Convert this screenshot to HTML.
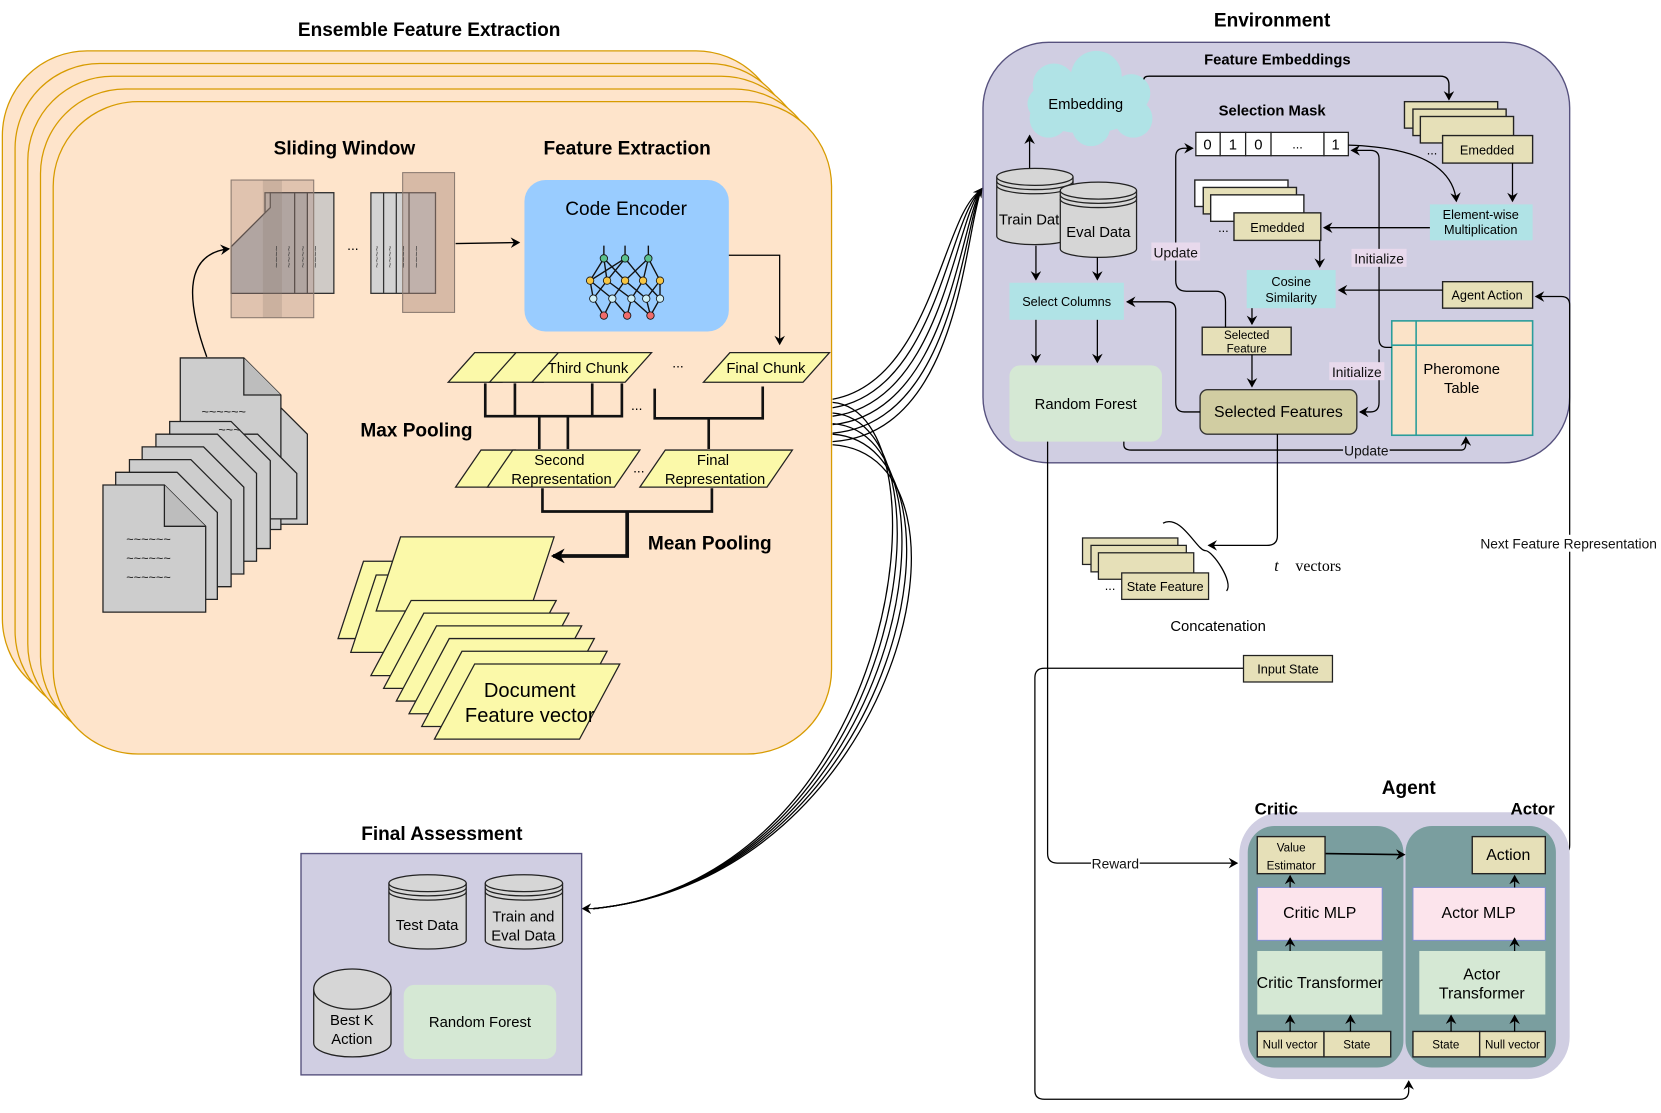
<!DOCTYPE html>
<html><head><meta charset="utf-8"><style>
html,body{margin:0;padding:0;background:#fff;}
svg{display:block;font-family:"Liberation Sans",Arial,sans-serif;}
.b{font-weight:bold;}
</style></head><body>
<svg width="1661" height="1113" viewBox="0 0 1568 1051" xmlns="http://www.w3.org/2000/svg">
<defs>
<marker id="ar" markerWidth="10" markerHeight="10" refX="8" refY="5" orient="auto" markerUnits="userSpaceOnUse"><path d="M0,0 L9,5 L0,10 L3,5 Z" fill="#000"/></marker>
<marker id="ar2" markerWidth="14" markerHeight="14" refX="11" refY="7" orient="auto" markerUnits="userSpaceOnUse"><path d="M0,0 L13,7 L0,14 L4,7 Z" fill="#000"/></marker>
</defs>
<rect width="1568" height="1051" fill="#fff"/>

<!-- Ensemble -->
<text x="405" y="34" text-anchor="middle" font-size="18" class="b">Ensemble Feature Extraction</text>
<g fill="#fee4cb" stroke="#d79b00" stroke-width="1.2">
<rect x="2" y="48" width="735" height="616" rx="80"/>
<rect x="14" y="60" width="735" height="616" rx="80"/>
<rect x="26" y="72" width="735" height="616" rx="80"/>
<rect x="38" y="84" width="735" height="616" rx="80"/>
<rect x="50" y="96" width="735" height="616" rx="80"/>
</g>
<text x="325" y="146" text-anchor="middle" font-size="18" class="b">Sliding Window</text>
<text x="592" y="146" text-anchor="middle" font-size="18" class="b">Feature Extraction</text>

<!-- sliding window -->
<g stroke="#333" stroke-width="1.2">
<rect x="250" y="182" width="65" height="95" fill="#ddd6d0"/>
<rect x="268" y="182" width="47" height="95" fill="#cfcac6"/>
<path d="M218,233 L255,196 L255,182 L290,182 L290,277 L218,277 Z" fill="#b5b5b5"/>
<line x1="278" y1="182" x2="278" y2="277"/>
<rect x="350" y="182" width="61" height="95" fill="#d3d3d3"/>
<line x1="362" y1="182" x2="362" y2="277"/><line x1="374" y1="182" x2="374" y2="277"/><line x1="386" y1="182" x2="386" y2="277"/>
</g>
<rect x="218" y="170" width="78" height="130" fill="#a8887a" fill-opacity="0.35" stroke="#8a7a70"/>
<rect x="248" y="170" width="18" height="130" fill="#8a7a70" fill-opacity="0.25"/>
<rect x="380" y="163" width="49" height="132" fill="#a8887a" fill-opacity="0.45" stroke="#8a7a70"/>
<g font-size="9" fill="#333">
<text x="258" y="232" transform="rotate(90 258 232)">~~~~</text>
<text x="270" y="232" transform="rotate(90 270 232)">~~~~</text>
<text x="283" y="232" transform="rotate(90 283 232)">~~~~</text>
<text x="295" y="232" transform="rotate(90 295 232)">~~~~</text>
<text x="353" y="232" transform="rotate(90 353 232)">~~~~</text>
<text x="365" y="232" transform="rotate(90 365 232)">~~~~</text>
<text x="378" y="232" transform="rotate(90 378 232)">~~~~</text>
<text x="390" y="232" transform="rotate(90 390 232)">~~~~</text>
</g>
<text x="333" y="236" font-size="13" text-anchor="middle">...</text>
<path d="M430,230 L490,229" stroke="#000" stroke-width="1.2" fill="none" marker-end="url(#ar)"/>

<!-- code encoder -->
<rect x="495" y="170" width="193" height="143" rx="20" fill="#99ccff"/>
<text x="591" y="203" text-anchor="middle" font-size="18">Code Encoder</text>
<g stroke="#111" stroke-width="1.3">
<path d="M570,244 L557,265 M570,244 L573,265 M570,244 L590,265 M590,244 L573,265 M590,244 L607,265 M590,244 L557,265 M612,244 L607,265 M612,244 L623,265 M612,244 L590,265 M557,265 L560,282 M557,265 L578,282 M573,265 L560,282 M573,265 L596,282 M590,265 L578,282 M590,265 L610,282 M607,265 L596,282 M607,265 L623,282 M623,265 L610,282 M623,265 L623,282 M560,282 L570,298 M578,282 L570,298 M578,282 L592,298 M596,282 L592,298 M596,282 L614,298 M610,282 L614,298 M623,282 L614,298 M560,282 L557,265 M570,244 L570,232 M590,244 L590,232 M612,244 L612,232"/>
</g>
<g stroke="#111" stroke-width="0.8">
<circle cx="570" cy="244" r="3.5" fill="#5ac18e"/><circle cx="590" cy="244" r="3.5" fill="#5ac18e"/><circle cx="612" cy="244" r="3.5" fill="#5ac18e"/>
<circle cx="557" cy="265" r="3.5" fill="#f6c543"/><circle cx="573" cy="265" r="3.5" fill="#f6c543"/><circle cx="590" cy="265" r="3.5" fill="#f6c543"/><circle cx="607" cy="265" r="3.5" fill="#f6c543"/><circle cx="623" cy="265" r="3.5" fill="#f6c543"/>
<circle cx="560" cy="282" r="3.5" fill="#cdeef6"/><circle cx="578" cy="282" r="3.5" fill="#cdeef6"/><circle cx="596" cy="282" r="3.5" fill="#cdeef6"/><circle cx="610" cy="282" r="3.5" fill="#cdeef6"/><circle cx="623" cy="282" r="3.5" fill="#cdeef6"/>
<circle cx="570" cy="298" r="3.5" fill="#ef6b6b"/><circle cx="592" cy="298" r="3.5" fill="#ef6b6b"/><circle cx="614" cy="298" r="3.5" fill="#ef6b6b"/>
</g>
<path d="M688,241 L736,241 L736,325" stroke="#000" stroke-width="1.2" fill="none" marker-end="url(#ar)"/>

<!-- chunks -->
<g fill="#fbf9a9" stroke="#222" stroke-width="1.2">
<path d="M423,361 L448,333 L499,333 L474,361 Z"/>
<path d="M462,361 L487,333 L538,333 L513,361 Z"/>
<path d="M502,361 L527,333 L615,333 L590,361 Z"/>
<path d="M664,361 L689,333 L783,333 L758,361 Z"/>
<path d="M430,460 L454,425 L486,425 L462,460 Z"/>
<path d="M460,460 L484,425 L604,425 L580,460 Z"/>
<path d="M604,460 L628,425 L748,425 L724,460 Z"/>
</g>
<text x="555" y="352" text-anchor="middle" font-size="14">Third Chunk</text>
<text x="723" y="352" text-anchor="middle" font-size="14">Final Chunk</text>
<text x="640" y="347" text-anchor="middle" font-size="13">...</text>
<text x="528" y="439" text-anchor="middle" font-size="14">Second</text>
<text x="530" y="457" text-anchor="middle" font-size="14">Representation</text>
<text x="673" y="439" text-anchor="middle" font-size="14">Final</text>
<text x="675" y="457" text-anchor="middle" font-size="14">Representation</text>
<text x="603" y="446" text-anchor="middle" font-size="13">...</text>
<text x="601" y="387" text-anchor="middle" font-size="13">...</text>
<g stroke="#111" stroke-width="2.5" fill="none">
<path d="M458,362 L458,393 L587,393 L587,362 M486,362 L486,393 M559,362 L559,393 M509,393 L509,424 M536,393 L536,424"/>
<path d="M618,367 L618,395 L720,395 L720,365 M669,395 L669,424"/>
<path d="M512,461 L512,483 L672,483 L672,461"/>
</g>
<path d="M592,483 L592,525 L522,525" stroke="#111" stroke-width="3.5" fill="none" marker-end="url(#ar2)"/>
<text x="393" y="412" text-anchor="middle" font-size="18" class="b">Max Pooling</text>
<text x="670" y="519" text-anchor="middle" font-size="18" class="b">Mean Pooling</text>

<!-- doc feature vectors -->
<g fill="#fbf9a9" stroke="#222" stroke-width="1.2">
<path d="M343,530 L489,530 L465,603 L319,603 Z"/>
<path d="M355,543 L501,543 L477,616 L331,616 Z"/>
<path d="M378,507 L523,507 L500,577 L355,577 Z"/>
<path d="M388,567 L525,567 L487,638 L350,638 Z"/>
<path d="M400,579 L537,579 L499,650 L362,650 Z"/>
<path d="M412,591 L549,591 L511,662 L374,662 Z"/>
<path d="M424,603 L561,603 L523,674 L386,674 Z"/>
<path d="M436,615 L573,615 L535,686 L398,686 Z"/>
<path d="M448,627 L585,627 L547,698 L410,698 Z"/>
</g>
<text x="500" y="658" text-anchor="middle" font-size="19">Document</text>
<text x="500" y="682" text-anchor="middle" font-size="19">Feature vector</text>

<!-- documents -->
<g fill="#cdcdcd" stroke="#222" stroke-width="1.2">
<path d="M194,385 L265,385 L290,410 L290,495 L194,495 Z"/>
<path d="M170,338 L230,338 L265,373 L265,500 L170,500 Z"/>
<path d="M230,338 L230,373 L265,373" fill="#bdbdbd"/>
<path d="M182,410 L243,410 L280,447 L280,490 L182,490" fill="#cdcdcd"/>
</g>
<g fill="#cdcdcd" stroke="#222" stroke-width="1.2">
<path d="M160,398 L218,398 L255,435 L255,518 L160,518 Z"/>
<path d="M147,410 L205,410 L242,447 L242,530 L147,530 Z"/>
<path d="M134,422 L192,422 L230,460 L230,542 L134,542 Z"/>
<path d="M122,434 L180,434 L218,472 L218,554 L122,554 Z"/>
<path d="M109,446 L167,446 L205,484 L205,566 L109,566 Z"/>
<path d="M97,458 L155,458 L194,497 L194,578 L97,578 Z"/>
<path d="M155,458 L155,497 L194,497" fill="#bdbdbd"/>
</g>
<g font-size="12" fill="#222">
<text x="190" y="393">~~~~~~</text>
<text x="206" y="410">~~~</text>
<text x="119" y="513">~~~~~~</text>
<text x="119" y="531">~~~~~~</text>
<text x="119" y="549">~~~~~~</text>
</g>
<path d="M195,337 C178,290 170,240 216,235" stroke="#000" stroke-width="1.3" fill="none" marker-end="url(#ar)"/>

<!-- connectors ensemble -> env & final -->
<g stroke="#000" stroke-width="1.2" fill="none">
<path d="M786,377 C880,360 890,200 926,180"/>
<path d="M786,385 C885,370 895,205 926,180"/>
<path d="M786,393 C890,380 900,210 926,180"/>
<path d="M786,401 C895,390 905,215 926,180"/>
<path d="M786,409 C900,400 908,220 926,180"/>
<path d="M786,417 C905,410 910,225 926,180"/>
<path d="M786,380 C900,390 850,830 560,858"/>
<path d="M786,390 C910,400 850,830 560,858"/>
<path d="M786,400 C920,410 850,830 560,858"/>
<path d="M786,410 C930,420 850,830 560,858"/>
<path d="M786,420 C940,430 850,830 560,858"/>
</g>
<path d="M920,188 L927,178" stroke="#000" fill="none" marker-end="url(#ar)"/>
<path d="M565,858 L550,858" stroke="#000" fill="none" marker-end="url(#ar)"/>

<!-- Environment -->
<text x="1201" y="25" text-anchor="middle" font-size="18" class="b">Environment</text>
<rect x="928" y="40" width="554" height="397" rx="62" fill="#d0cee2" stroke="#56517e" stroke-width="1.3"/>
<text x="1206" y="61" text-anchor="middle" font-size="14" class="b">Feature Embeddings</text>
<text x="1201" y="109" text-anchor="middle" font-size="14" class="b">Selection Mask</text>
<g fill="#b0e3e6">
<ellipse cx="1025" cy="98" rx="55" ry="28"/>
<circle cx="995" cy="80" r="20"/><circle cx="1035" cy="72" r="24"/><circle cx="1068" cy="88" r="18"/>
<circle cx="990" cy="112" r="18"/><circle cx="1030" cy="120" r="18"/><circle cx="1070" cy="112" r="18"/>
</g>
<text x="1025" y="103" text-anchor="middle" font-size="14">Embedding</text>
<path d="M972,160 L972,128" stroke="#000" stroke-width="1.2" marker-end="url(#ar)"/>
<path d="M1080,75 Q1080,72 1085,72 L1360,72 Q1368,72 1368,80 L1368,94" stroke="#000" stroke-width="1.3" fill="none" marker-end="url(#ar)"/>

<g stroke="#222" stroke-width="1.3">
<rect x="1326" y="96" width="88" height="25" fill="#e6e0b8"/>
<rect x="1334" y="103" width="88" height="25" fill="#e6e0b8"/>
<rect x="1341" y="110" width="88" height="25" fill="#e6e0b8"/>
<rect x="1362" y="128" width="85" height="26" fill="#e6e0b8"/>
<rect x="1128" y="170" width="88" height="25" fill="#fff"/>
<rect x="1136" y="177" width="88" height="25" fill="#e6e0b8"/>
<rect x="1143" y="184" width="88" height="25" fill="#fff"/>
<rect x="1165" y="201" width="82" height="26" fill="#e6e0b8"/>
</g>
<text x="1404" y="146" text-anchor="middle" font-size="12">Emedded</text>
<text x="1352" y="146" text-anchor="middle" font-size="12">...</text>
<text x="1206" y="219" text-anchor="middle" font-size="12">Emedded</text>
<text x="1155" y="219" text-anchor="middle" font-size="12">...</text>

<g stroke="#222" stroke-width="1.2" fill="#fff">
<rect x="1129" y="125" width="23" height="22"/><rect x="1152" y="125" width="24" height="22"/><rect x="1176" y="125" width="24" height="22"/><rect x="1200" y="125" width="50" height="22"/><rect x="1250" y="125" width="23" height="22"/>
</g>
<g font-size="14" text-anchor="middle"><text x="1140" y="141">0</text><text x="1164" y="141">1</text><text x="1188" y="141">0</text><text x="1225" y="140" font-size="12">...</text><text x="1261" y="141">1</text></g>

<rect x="1350" y="193" width="97" height="34" fill="#b0e3e6"/>
<text x="1398" y="207" text-anchor="middle" font-size="12">Element-wise</text>
<text x="1398" y="221" text-anchor="middle" font-size="12">Multiplication</text>
<rect x="1177" y="255" width="84" height="36" fill="#b0e3e6"/>
<text x="1219" y="270" text-anchor="middle" font-size="12">Cosine</text>
<text x="1219" y="285" text-anchor="middle" font-size="12">Similarity</text>
<rect x="1362" y="266" width="85" height="25" fill="#e6e0b8" stroke="#222" stroke-width="1.3"/>
<text x="1404" y="283" text-anchor="middle" font-size="12">Agent Action</text>
<rect x="1314" y="303" width="133" height="108" fill="#fbe3c8" stroke="#2a9d9a" stroke-width="1.5"/>
<line x1="1337" y1="303" x2="1337" y2="411" stroke="#2a9d9a" stroke-width="1.5"/>
<line x1="1314" y1="326" x2="1447" y2="326" stroke="#2a9d9a" stroke-width="1.5"/>
<text x="1380" y="353" text-anchor="middle" font-size="14">Pheromone</text>
<text x="1380" y="371" text-anchor="middle" font-size="14">Table</text>
<rect x="1135" y="309" width="84" height="26" fill="#e6e0b8" stroke="#222" stroke-width="1.3"/>
<text x="1177" y="320" text-anchor="middle" font-size="11">Selected</text>
<text x="1177" y="333" text-anchor="middle" font-size="11">Feature</text>
<rect x="1133" y="368" width="148" height="42" rx="7" fill="#d1cda2" stroke="#333" stroke-width="1.3"/>
<text x="1207" y="394" text-anchor="middle" font-size="15">Selected Features</text>

<!-- cylinders env -->
<g stroke="#222" stroke-width="1.2" fill="#d6d6d6">
<path d="M941,167 L941,223 A36,8 0 0 0 1013,223 L1013,167"/>
<ellipse cx="977" cy="167" rx="36" ry="8"/>
<path d="M941,171 A36,8 0 0 0 1013,171 M941,175 A36,8 0 0 0 1013,175" fill="none"/>
<path d="M1001,180 L1001,235 A36,8 0 0 0 1073,235 L1073,180"/>
<ellipse cx="1037" cy="180" rx="36" ry="8"/>
<path d="M1001,184 A36,8 0 0 0 1073,184 M1001,188 A36,8 0 0 0 1073,188" fill="none"/>
</g>
<text x="943" y="212" font-size="14">Train Dat</text>
<text x="1037" y="224" text-anchor="middle" font-size="14">Eval Data</text>
<rect x="953" y="267" width="108" height="35" fill="#b0e3e6"/>
<text x="1007" y="289" text-anchor="middle" font-size="12">Select Columns</text>
<rect x="953" y="345" width="144" height="72" rx="10" fill="#d5e8d4"/>
<text x="1025" y="386" text-anchor="middle" font-size="14">Random Forest</text>

<g stroke="#000" stroke-width="1.2" fill="none">
<path d="M978,232 L978,264" marker-end="url(#ar)"/>
<path d="M1036,243 L1036,264" marker-end="url(#ar)"/>
<path d="M978,302 L978,342" marker-end="url(#ar)"/>
<path d="M1036,302 L1036,342" marker-end="url(#ar)"/>
<path d="M1133,389 L1118,389 Q1110,389 1110,380 L1110,293 Q1110,285 1102,285 L1064,285" marker-end="url(#ar)"/>
<path d="M1157,309 L1157,285 Q1157,275 1148,275 L1120,275 Q1110,275 1110,265 L1110,148 Q1110,140 1118,140 L1126,140" marker-end="url(#ar)"/>
<path d="M1182,291 L1182,306" marker-end="url(#ar)"/>
<path d="M1182,335 L1182,365" marker-end="url(#ar)"/>
<path d="M1246,227 L1246,252" marker-end="url(#ar)"/>
<path d="M1350,215 L1250,215" marker-end="url(#ar)"/>
<path d="M1428,154 L1428,190" marker-end="url(#ar)"/>
<path d="M1273,137 Q1370,140 1375,190" marker-end="url(#ar)"/>
<path d="M1362,274 L1264,274" marker-end="url(#ar)"/>
<path d="M1314,328 L1309,328 Q1302,328 1302,320 L1302,150 Q1302,142 1294,142 L1276,142" marker-end="url(#ar)"/>
<path d="M1302,330 L1302,380 Q1302,389 1294,389 L1284,389" marker-end="url(#ar)"/>
<path d="M1061,417 L1061,420 Q1061,425 1068,425 L1380,425 Q1384,425 1384,418 L1384,413" marker-end="url(#ar)"/>
<path d="M1460,807 L1475,807 Q1482,807 1482,798 L1482,288 Q1482,280 1474,280 L1450,280" marker-end="url(#ar)"/>
<path d="M1206,410 L1206,506 Q1206,515 1196,515 L1141,515" marker-end="url(#ar)"/>
<path d="M989,417 L989,806 Q989,815 998,815 L1168,815" marker-end="url(#ar)"/>
<path d="M1174,631 L986,631 Q977,631 977,640 L977,1030 Q977,1038 986,1038 L1322,1038 Q1330,1038 1330,1030 L1330,1021" marker-end="url(#ar)"/>
</g>
<g font-size="13" fill="#111">
<rect x="1087" y="229" width="46" height="17" fill="#e8d9ec"/><text x="1110" y="243" text-anchor="middle">Update</text>
<rect x="1276" y="235" width="52" height="17" fill="#e8d9ec"/><text x="1302" y="249" text-anchor="middle">Initialize</text>
<rect x="1255" y="342" width="52" height="17" fill="#e8d9ec"/><text x="1281" y="356" text-anchor="middle">Initialize</text>
<rect x="1268" y="417" width="44" height="16" fill="#d0cee2"/><text x="1290" y="430" text-anchor="middle">Update</text>
<rect x="1030" y="808" width="46" height="15" fill="#fff"/><text x="1053" y="820" text-anchor="middle">Reward</text>
<rect x="1396" y="505" width="170" height="16" fill="#fff"/><text x="1481" y="518" text-anchor="middle">Next Feature Representation</text>
</g>

<!-- state features -->
<g stroke="#222" stroke-width="1.2" fill="#e6e0b8">
<rect x="1022" y="508" width="90" height="25"/>
<rect x="1030" y="515" width="90" height="25"/>
<rect x="1037" y="522" width="90" height="25"/>
<rect x="1059" y="541" width="82" height="25"/>
</g>
<text x="1100" y="558" text-anchor="middle" font-size="12">State Feature</text>
<text x="1048" y="557" text-anchor="middle" font-size="12">...</text>
<path d="M1098,494 C1115,485 1130,520 1138,520 C1145,520 1165,550 1158,558" stroke="#000" stroke-width="1.2" fill="none"/>
<text x="1203" y="539" font-family="Liberation Serif,serif" font-style="italic" font-size="15">t</text>
<text x="1223" y="539" font-family="Liberation Serif,serif" font-size="15">vectors</text>
<text x="1150" y="596" text-anchor="middle" font-size="14">Concatenation</text>
<rect x="1174" y="619" width="84" height="25" fill="#e6e0b8" stroke="#222" stroke-width="1.2"/>
<text x="1216" y="636" text-anchor="middle" font-size="12">Input State</text>

<!-- Agent -->
<rect x="1170" y="767" width="312" height="252" rx="40" fill="#d0cee2"/>
<text x="1330" y="750" text-anchor="middle" font-size="18" class="b">Agent</text>
<text x="1205" y="769" text-anchor="middle" font-size="16" class="b">Critic</text>
<text x="1447" y="769" text-anchor="middle" font-size="16" class="b">Actor</text>
<rect x="1178" y="780" width="147" height="228" rx="25" fill="#7a9e9f"/>
<rect x="1327" y="780" width="142" height="228" rx="25" fill="#7a9e9f"/>
<path d="M1251,806 L1326,807" stroke="#000" stroke-width="1.5" fill="none" marker-end="url(#ar)"/>
<g stroke="#222" stroke-width="1.3" fill="#e6e0b8">
<rect x="1187" y="790" width="64" height="35"/>
<rect x="1390" y="790" width="69" height="35"/>
<rect x="1187" y="974" width="63" height="24"/><rect x="1250" y="974" width="63" height="24"/>
<rect x="1334" y="974" width="63" height="24"/><rect x="1397" y="974" width="62" height="24"/>
</g>
<text x="1219" y="804" text-anchor="middle" font-size="11">Value</text>
<text x="1219" y="821" text-anchor="middle" font-size="11">Estimator</text>
<text x="1424" y="812" text-anchor="middle" font-size="15">Action</text>
<rect x="1187" y="838" width="118" height="50" fill="#fce4ec" stroke="#7e8fd0"/>
<rect x="1334" y="838" width="125" height="50" fill="#fce4ec" stroke="#7e8fd0"/>
<text x="1246" y="867" text-anchor="middle" font-size="15">Critic MLP</text>
<text x="1396" y="867" text-anchor="middle" font-size="15">Actor MLP</text>
<rect x="1187" y="898" width="118" height="60" fill="#d5e8d4"/>
<rect x="1340" y="898" width="119" height="60" fill="#d5e8d4"/>
<text x="1246" y="933" text-anchor="middle" font-size="15">Critic Transformer</text>
<text x="1399" y="925" text-anchor="middle" font-size="15">Actor</text>
<text x="1399" y="943" text-anchor="middle" font-size="15">Transformer</text>
<g font-size="11" text-anchor="middle"><text x="1218" y="990">Null vector</text><text x="1281" y="990">State</text><text x="1365" y="990">State</text><text x="1428" y="990">Null vector</text></g>
<g stroke="#000" stroke-width="1.2">
<path d="M1218,838 L1218,827" marker-end="url(#ar)"/>
<path d="M1218,898 L1218,886" marker-end="url(#ar)"/>
<path d="M1218,974 L1218,959" marker-end="url(#ar)"/>
<path d="M1275,974 L1275,959" marker-end="url(#ar)"/>
<path d="M1430,838 L1430,827" marker-end="url(#ar)"/>
<path d="M1430,898 L1430,886" marker-end="url(#ar)"/>
<path d="M1370,974 L1370,959" marker-end="url(#ar)"/>
<path d="M1430,974 L1430,959" marker-end="url(#ar)"/>
</g>

<!-- Final Assessment -->
<text x="417" y="793" text-anchor="middle" font-size="18" class="b">Final Assessment</text>
<rect x="284" y="806" width="265" height="209" fill="#d0cee2" stroke="#56517e" stroke-width="1.3"/>
<g stroke="#222" stroke-width="1.2" fill="#d6d6d6">
<path d="M367,834 L367,888 A36,8 0 0 0 440,888 L440,834"/><ellipse cx="403.5" cy="834" rx="36.5" ry="8"/>
<path d="M367,838 A36.5,8 0 0 0 440,838 M367,842 A36.5,8 0 0 0 440,842" fill="none"/>
<path d="M458,834 L458,888 A36,8 0 0 0 531,888 L531,834"/><ellipse cx="494.5" cy="834" rx="36.5" ry="8"/>
<path d="M458,838 A36.5,8 0 0 0 531,838 M458,842 A36.5,8 0 0 0 531,842" fill="none"/>
<path d="M296,934 L296,985 A36.5,13 0 0 0 369,985 L369,934"/><ellipse cx="332.5" cy="934" rx="36.5" ry="19"/>
</g>
<text x="403" y="878" text-anchor="middle" font-size="14">Test Data</text>
<text x="494" y="870" text-anchor="middle" font-size="14">Train and</text>
<text x="494" y="888" text-anchor="middle" font-size="14">Eval Data</text>
<text x="332" y="968" text-anchor="middle" font-size="14">Best K</text>
<text x="332" y="986" text-anchor="middle" font-size="14">Action</text>
<rect x="381" y="930" width="144" height="70" rx="10" fill="#d5e8d4"/>
<text x="453" y="970" text-anchor="middle" font-size="14">Random Forest</text>
</svg>
</body></html>
